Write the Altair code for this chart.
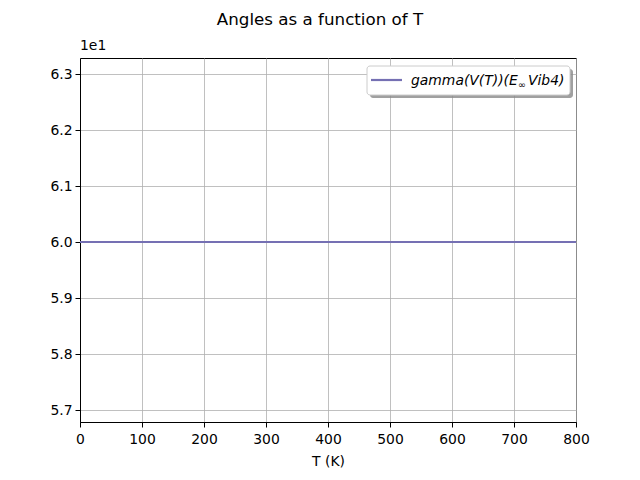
import altair as alt
import pandas as pd

T_values = [0, 100, 200, 300, 400, 500, 600, 700, 800]
gamma_values = [60.0, 60.0, 60.0, 60.0, 60.0, 60.0, 60.0, 60.0, 60.0]
x_ticks = [0, 100, 200, 300, 400, 500, 600, 700, 800]
y_ticks = [5.7, 5.8, 5.9, 6.0, 6.1, 6.2, 6.3]

df = pd.DataFrame({"T": T_values, "gamma": gamma_values})

FONT = "DejaVu Sans"
W, H = 496, 364
LINE_COLOR = "#7570b3"

x_scale = alt.Scale(domain=[0, 800], nice=False, zero=False)
y_scale = alt.Scale(domain=[5.6786, 6.3286], nice=False, zero=False)

base = alt.Chart(df).transform_calculate(y="datum.gamma / 10")

line = base.mark_line(color=LINE_COLOR, strokeWidth=2.2, clip=True).encode(
    x=alt.X("T:Q", scale=x_scale,
            axis=alt.Axis(values=x_ticks, title="T (K)", format="d",
                          labelPadding=5, titlePadding=9)),
    y=alt.Y("y:Q", scale=y_scale,
            axis=alt.Axis(values=y_ticks, title=None, format=".1f")),
)

one = alt.Chart(pd.DataFrame({"a": [0]}))

exp_label = one.mark_text(text="1e1", font=FONT, fontSize=13.9, align="left",
                          baseline="bottom", color="black").encode(
    x=alt.value(0), y=alt.value(-5))

shadow = one.mark_rect(color="#888888", opacity=0.8, cornerRadius=3).encode(
    x=alt.value(290), x2=alt.value(493), y=alt.value(11), y2=alt.value(40))
box = one.mark_rect(fill="white", stroke="#cccccc", strokeWidth=1, cornerRadius=3).encode(
    x=alt.value(287), x2=alt.value(490), y=alt.value(8), y2=alt.value(37))
leg_line = one.mark_rule(color=LINE_COLOR, strokeWidth=2.2).encode(
    x=alt.value(291), x2=alt.value(322), y=alt.value(22))
t1 = one.mark_text(text="gamma(V(T))(E", font=FONT, fontSize=13.9, fontStyle="italic",
                   align="left", baseline="alphabetic", color="black").encode(
    x=alt.value(331), y=alt.value(27))
t2 = one.mark_text(text="∞", font=FONT, fontSize=9.5, fontStyle="italic",
                   align="left", baseline="alphabetic", color="black").encode(
    x=alt.value(438), y=alt.value(30))
t3 = one.mark_text(text="Vib4)", font=FONT, fontSize=13.9, fontStyle="italic",
                   align="left", baseline="alphabetic", color="black").encode(
    x=alt.value(448), y=alt.value(27))

chart = alt.layer(line, exp_label, shadow, box, leg_line, t1, t2, t3).properties(
    width=W, height=H,
    padding={"left": 80, "top": 58, "right": 64, "bottom": 58},
    autosize=alt.AutoSizeParams(type="none"),
    title=alt.TitleParams("Angles as a function of T", font=FONT, fontSize=16.7,
                          fontWeight="normal", anchor="middle", dx=-8, offset=10,
                          color="black"),
).configure_view(stroke="black", strokeWidth=1).configure_axis(
    labelFont=FONT, titleFont=FONT, labelFontSize=13.9, titleFontSize=13.9,
    titleFontWeight="normal", labelColor="black", titleColor="black",
    domainColor="black", tickColor="black", tickSize=5, labelPadding=3,
    grid=True, gridColor="#b0b0b0", gridWidth=0.8,
).configure_axisX(labelFlush=False).configure_axisY(labelFlush=False)

chart.save("out.html", embed_options={"renderer": "svg", "actions": False})
